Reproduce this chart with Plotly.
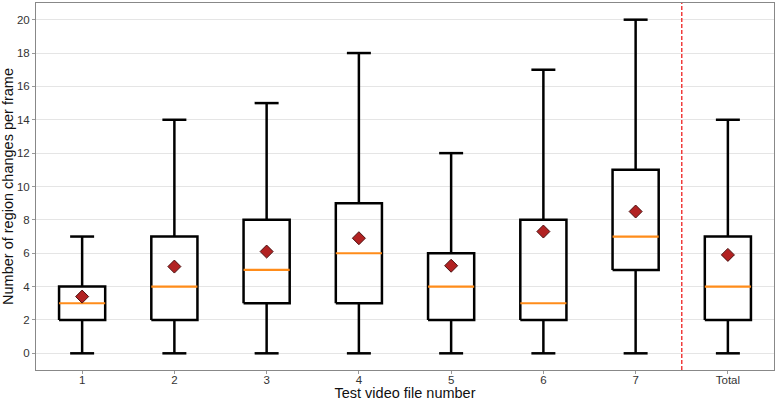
import plotly.graph_objects as go

categories = ["1", "2", "3", "4", "5", "6", "7", "Total"]
whisker_low = [0, 0, 0, 0, 0, 0, 0, 0]
q1 = [2, 2, 3, 3, 2, 2, 5, 2]
median = [3, 4, 5, 6, 4, 3, 7, 4]
q3 = [4, 7, 8, 9, 6, 8, 11, 7]
whisker_high = [7, 14, 15, 18, 12, 17, 20, 14]
mean = [3.4, 5.2, 6.1, 6.9, 5.25, 7.3, 8.5, 5.9]

BOX_HALF = 0.25
CAP_HALF = 0.13
pos = list(range(1, len(categories) + 1))

box_x, box_y = [], []
whisk_x, whisk_y = [], []
cap_x, cap_y = [], []
med_x, med_y = [], []
for x, lo, a, m, b, hi in zip(pos, whisker_low, q1, median, q3, whisker_high):
    box_x += [x - BOX_HALF, x + BOX_HALF, x + BOX_HALF, x - BOX_HALF, x - BOX_HALF, None]
    box_y += [a, a, b, b, a, None]
    whisk_x += [x, x, None, x, x, None]
    whisk_y += [b, hi, None, a, lo, None]
    cap_x += [x - CAP_HALF, x + CAP_HALF, None, x - CAP_HALF, x + CAP_HALF, None]
    cap_y += [hi, hi, None, lo, lo, None]
    med_x += [x - BOX_HALF, x + BOX_HALF, None]
    med_y += [m, m, None]

fig = go.Figure()
line_style = dict(color="black", width=2.5)
fig.add_scatter(x=whisk_x, y=whisk_y, mode="lines", line=line_style, showlegend=False)
fig.add_scatter(x=cap_x, y=cap_y, mode="lines", line=line_style, showlegend=False)
fig.add_scatter(x=box_x, y=box_y, mode="lines", line=line_style, showlegend=False)
fig.add_scatter(x=med_x, y=med_y, mode="lines",
                line=dict(color="#FF8C1A", width=2.2), showlegend=False)
fig.add_scatter(
    x=pos, y=mean, mode="markers", showlegend=False,
    marker=dict(symbol="diamond", size=10, color="#B22222",
                line=dict(color="#4a1010", width=1)),
)
fig.add_vline(x=7.5, line_color="#F03C3C", line_dash="4px,2px", line_width=1.5)

fig.update_layout(
    width=777, height=401,
    margin=dict(l=36, r=3, t=3, b=31),
    plot_bgcolor="white", paper_bgcolor="white",
    font=dict(family="Arial, Liberation Sans, sans-serif", color="#111111"),
    xaxis=dict(
        range=[0.5, 8.5], tickvals=pos, ticktext=categories,
        showgrid=False, zeroline=False, automargin=False,
        showline=True, linecolor="#888888", linewidth=1, mirror=True,
        ticks="outside", ticklen=3, tickcolor="#999999",
        ticklabelstandoff=-4,
        tickfont=dict(size=11.5, color="#333333"),
        title=dict(text="Test video file number", font=dict(size=14.5), standoff=0),
    ),
    yaxis=dict(
        range=[-1, 21], tickvals=list(range(0, 21, 2)),
        showgrid=True, gridcolor="#E5E5E5", gridwidth=1, zeroline=False, automargin=False,
        showline=True, linecolor="#888888", linewidth=1, mirror=True,
        ticks="outside", ticklen=3, tickcolor="#999999",
        tickfont=dict(size=11.5, color="#333333"),
        title=dict(text="Number of region changes per frame", font=dict(size=14.5), standoff=4),
    ),
)
# the page's default 8px body margin would shift the fixed-size figure
fig.write_html("out.html", config={"displayModeBar": False},
               post_script="document.body.style.margin='0';")
